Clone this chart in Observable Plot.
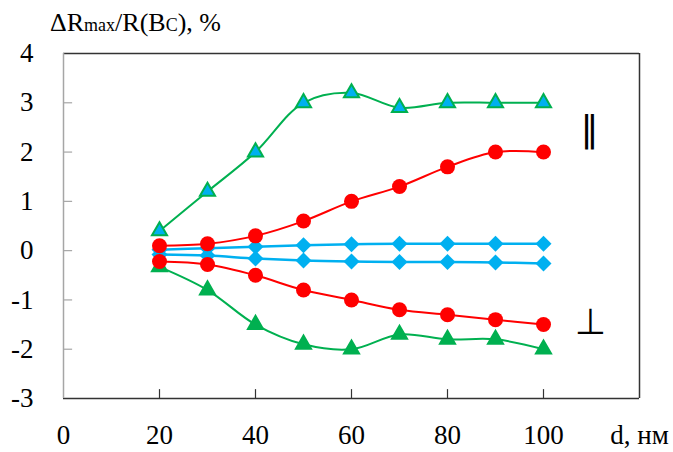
<!DOCTYPE html>
<html>
<head>
<meta charset="utf-8">
<script src="https://cdn.jsdelivr.net/npm/d3@7"></script>
<script src="https://cdn.jsdelivr.net/npm/@observablehq/plot@0.6"></script>
</head>
<body style="margin:0;background:#fff">
<div id="wrap" style="position:relative;width:673px;height:452px">
  <div id="ylabel" style="position:absolute;left:50px;top:8px;font-size:26px;color:#000;white-space:nowrap">ΔR<span style="font-size:18px">max</span>/R(B<span style="font-size:18px">C</span>), %</div>
</div>
<script>
const thickness = [20, 30, 40, 50, 60, 70, 80, 90, 100];
const greenPar  = [0.4, 1.2, 2.0, 3.0, 3.2, 2.9, 3.0, 3.0, 3.0];
const redPar    = [0.1, 0.14, 0.3, 0.6, 1.0, 1.3, 1.7, 2.0, 2.0];
const bluePar   = [0.02, 0.05, 0.08, 0.11, 0.13, 0.14, 0.14, 0.14, 0.14];
const bluePerp  = [-0.08, -0.1, -0.16, -0.2, -0.22, -0.23, -0.23, -0.24, -0.26];
const redPerp   = [-0.22, -0.28, -0.5, -0.8, -1.0, -1.2, -1.3, -1.4, -1.5];
const greenPerp = [-0.33, -0.8, -1.5, -1.9, -2.0, -1.7, -1.8, -1.8, -2.0];
const yTicks = [-3, -2, -1, 0, 1, 2, 3, 4];
const xTicks = [0, 20, 40, 60, 80, 100, 120];
const xTickMarks = [20, 40, 60, 80, 100];
const xAxisTitle = "d, нм";
const annotations = [
  {label: "‖", x: 109.6, y: 2.45},
  {label: "⊥", x: 109.8, y: -1.45}
];

const GREEN = "#00B050", RED = "#FF0000", BLUE = "#00B0F0";
const SERIF = "'Liberation Serif', 'Times New Roman', serif";
const mk = (ys) => thickness.map((d, i) => ({d, v: ys[i]}));

const series = [
  {data: mk(greenPar), stroke: GREEN, symbol: "triangle", fill: BLUE, mstroke: GREEN, r: 5.6},
  {data: mk(greenPerp), stroke: GREEN, symbol: "triangle", fill: GREEN, mstroke: GREEN, r: 5.6},
  {data: mk(bluePar), stroke: BLUE, symbol: "diamond2", fill: BLUE, mstroke: BLUE, r: 7.2, sw: 2.5},
  {data: mk(bluePerp), stroke: BLUE, symbol: "diamond2", fill: BLUE, mstroke: BLUE, r: 7.2, sw: 2.5},
  {data: mk(redPar), stroke: RED, symbol: "circle", fill: RED, mstroke: RED, r: 7.5},
  {data: mk(redPerp), stroke: RED, symbol: "circle", fill: RED, mstroke: RED, r: 7.5}
];

const marks = [
  Plot.ruleY([4], {stroke: "#333", strokeWidth: 1.5}),
  Plot.ruleY([-3], {stroke: "#333", strokeWidth: 1.5}),
  Plot.ruleX([120], {stroke: "#333", strokeWidth: 1.5}),
  Plot.ruleX([0], {stroke: "#a6a6a6", strokeWidth: 1.5}),
  Plot.ruleY(yTicks.filter(t => t > -3 && t < 4), {y: d => d, x1: 0, x2: 1.9, stroke: "#a6a6a6", strokeWidth: 1.2}),
  Plot.ruleX(xTickMarks, {x: d => d, y1: -3, y2: -2.82, stroke: "#333", strokeWidth: 1.2}),
  Plot.axisY({ticks: yTicks, tickSize: 0, tickPadding: 30, fontSize: 27, tickFormat: d => String(d)}),
  Plot.axisX({ticks: xTicks, tickSize: 0, tickPadding: 26, fontSize: 27, tickFormat: d => d === 120 ? xAxisTitle : String(d)})
];

for (const s of series) {
  marks.push(Plot.line(s.data, {x: "d", y: "v", stroke: s.stroke, strokeWidth: s.sw || 2, curve: "catmull-rom"}));
}
for (const s of series) {
  marks.push(Plot.dot(s.data, {x: "d", y: "v", symbol: () => s.symbol, r: s.r, fill: s.fill, stroke: s.mstroke, strokeWidth: s.symbol === "triangle" ? 2 : 0}));
}
marks.push(Plot.text(annotations, {x: "x", y: "y", text: "label", fontSize: 36, fill: "#000", className: "annot"}));

const chart = Plot.plot({
  width: 673,
  height: 452,
  marginLeft: 63,
  marginRight: 34,
  marginTop: 53,
  marginBottom: 54,
  x: {domain: [0, 120], label: null},
  y: {domain: [-3, 4], label: null},
  symbol: {type: "identity"},
  style: {color: "#000", background: "#fff", overflow: "visible"},
  marks
});
chart.style.position = "absolute";
chart.style.left = "0";
chart.style.top = "0";
const wrap = document.getElementById("wrap");
wrap.insertBefore(chart, wrap.firstChild);
const setFont = (el, f) => el.style.setProperty("font-family", f, "important");
setFont(chart, SERIF);
chart.querySelectorAll("g, text, tspan").forEach(el => setFont(el, SERIF));
chart.querySelectorAll(".annot, .annot text").forEach(el => setFont(el, "'DejaVu Sans'"));
document.querySelectorAll("#wrap, #ylabel, #ylabel span").forEach(el => setFont(el, SERIF));
</script>
</body>
</html>
